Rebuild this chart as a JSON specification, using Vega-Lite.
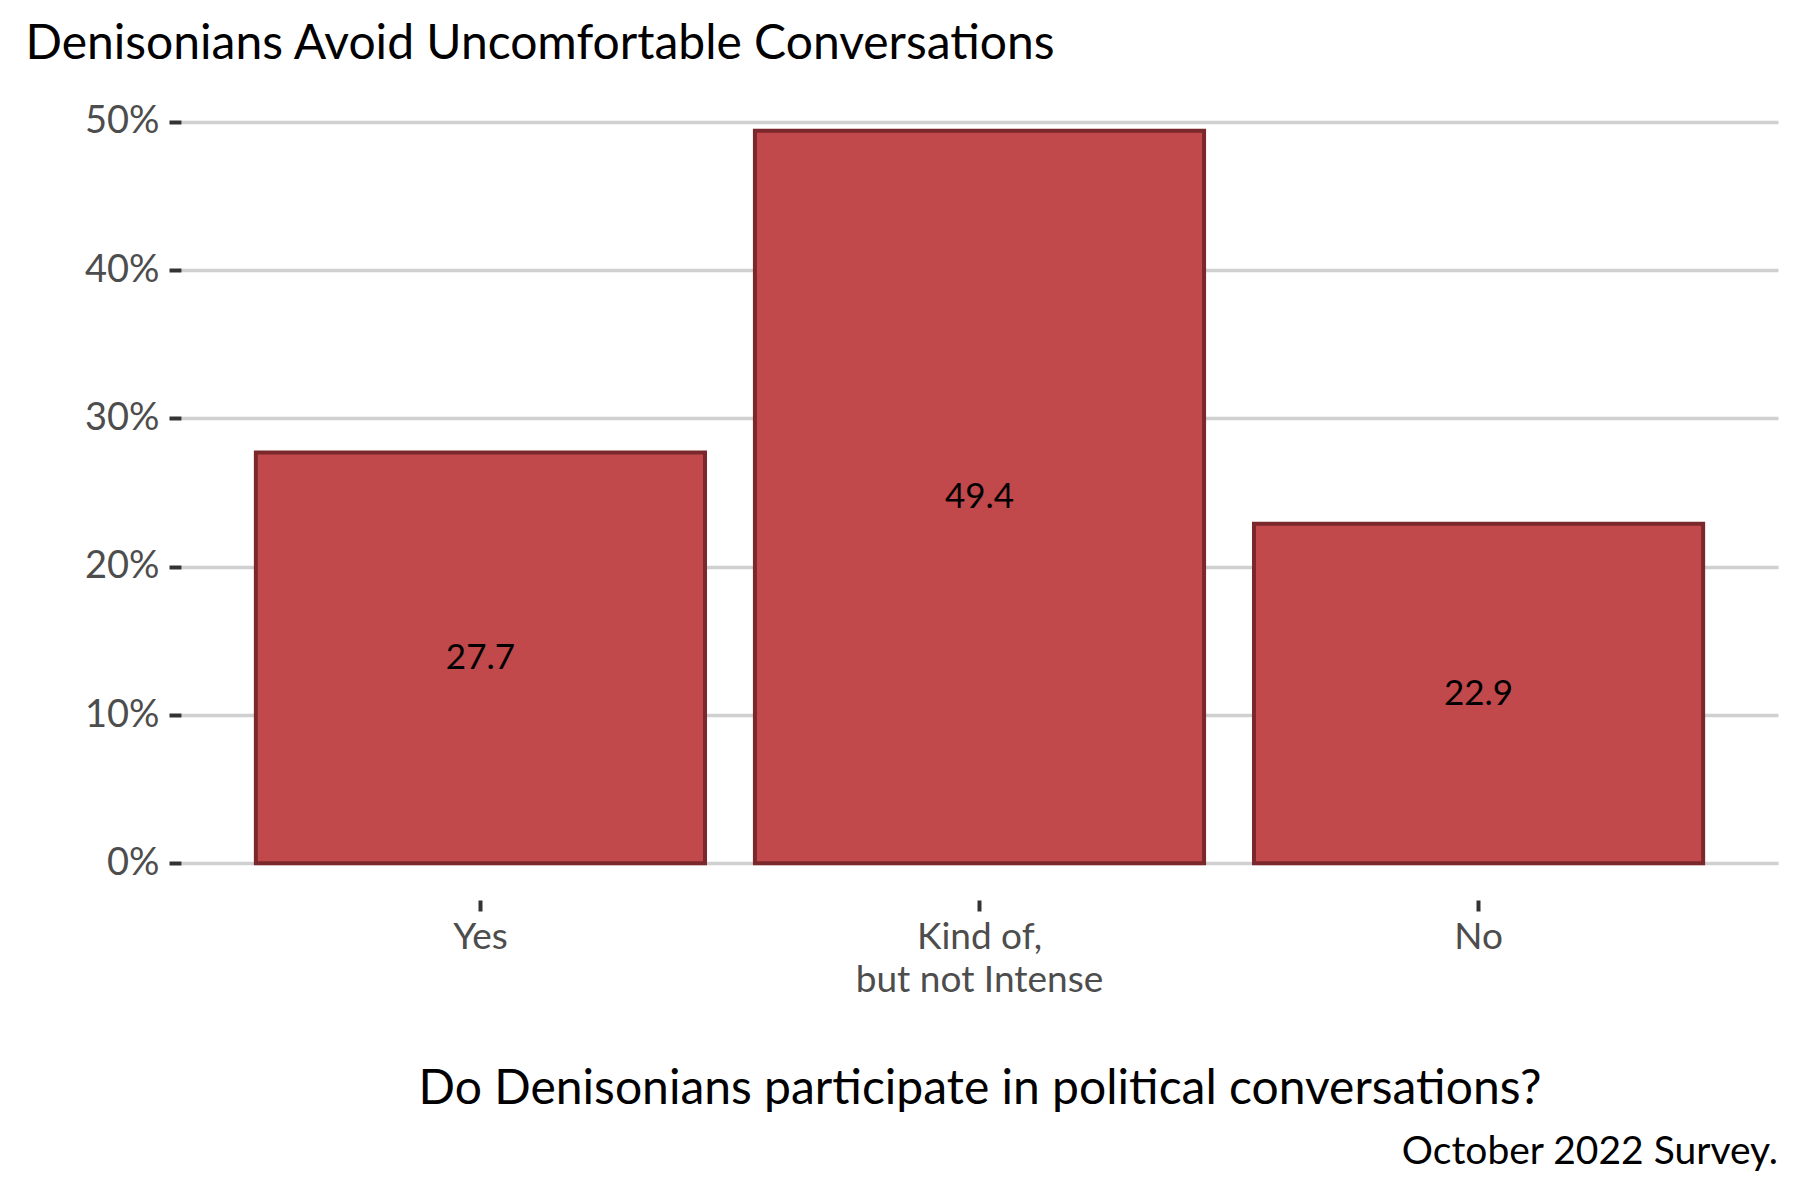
{
  "$schema": "https://vega.github.io/schema/vega-lite/v6.json",
  "autosize": "none",
  "width": 1597,
  "height": 806,
  "padding": {"left": 181, "top": 94, "right": 22, "bottom": 300},
  "background": "white",
  "config": {
    "view": {"stroke": null},
    "font": "Lato",
    "title": {"font": "Lato"},
    "axis": {"labelFont": "Lato", "titleFont": "Lato"}
  },
  "title": {
    "text": "October 2022 Survey.",
    "orient": "bottom",
    "anchor": "end",
    "frame": "group",
    "fontSize": 39,
    "fontWeight": "normal",
    "color": "#000000",
    "offset": 20
  },
  "data": {
    "values": [
      {"answer": "Yes", "pct": 27.7},
      {"answer": "Kind of, but not Intense", "pct": 49.4},
      {"answer": "No", "pct": 22.9}
    ]
  },
  "encoding": {
    "x": {
      "field": "answer",
      "type": "nominal",
      "sort": null,
      "scale": {"paddingInner": 0.1, "paddingOuter": 0.15},
      "axis": {
        "title": "Do Denisonians participate in political conversations?",
        "titleFontSize": 48,
        "titleFontWeight": "normal",
        "titleColor": "#000000",
        "titleBaseline": "alphabetic",
        "titleY": 203,
        "labelAngle": 0,
        "labelFontSize": 37,
        "labelColor": "#4D4D4D",
        "labelPadding": 8,
        "labelLineHeight": 43,
        "labelLimit": 0,
        "labelExpr": "datum.label == 'Kind of, but not Intense' ? ['Kind of,', 'but not Intense'] : datum.label",
        "domain": false,
        "grid": false,
        "ticks": true,
        "tickSize": 11,
        "tickWidth": 4,
        "tickColor": "#333333"
      }
    }
  },
  "layer": [
    {
      "mark": {"type": "bar", "fill": "#C1484B", "stroke": "#7B282D", "strokeWidth": 4},
      "encoding": {
        "y": {
          "field": "pct",
          "type": "quantitative",
          "scale": {"domain": [-2.47, 51.87], "nice": false, "zero": false},
          "axis": {
            "title": "Denisonians Avoid Uncomfortable Conversations",
            "titleAngle": 0,
            "titleAlign": "left",
            "titleBaseline": "alphabetic",
            "titleX": -156,
            "titleY": -36,
            "titleFontSize": 48,
            "titleFontWeight": "normal",
            "titleColor": "#000000",
            "values": [0, 10, 20, 30, 40, 50],
            "labelExpr": "datum.value + '%'",
            "labelFontSize": 38,
            "labelColor": "#4D4D4D",
            "labelPadding": 10,
            "domain": false,
            "grid": true,
            "gridColor": "#D0D0D0",
            "gridWidth": 3.5,
            "ticks": true,
            "tickSize": 12,
            "tickWidth": 4,
            "tickColor": "#333333"
          }
        },
        "y2": {"datum": 0}
      }
    },
    {
      "transform": [{"calculate": "datum.pct / 2", "as": "mid"}],
      "mark": {"type": "text", "fontSize": 35, "color": "#000000", "baseline": "middle", "align": "center"},
      "encoding": {
        "y": {"field": "mid", "type": "quantitative"},
        "text": {"field": "pct", "type": "quantitative", "format": ".1f"}
      }
    }
  ]
}
